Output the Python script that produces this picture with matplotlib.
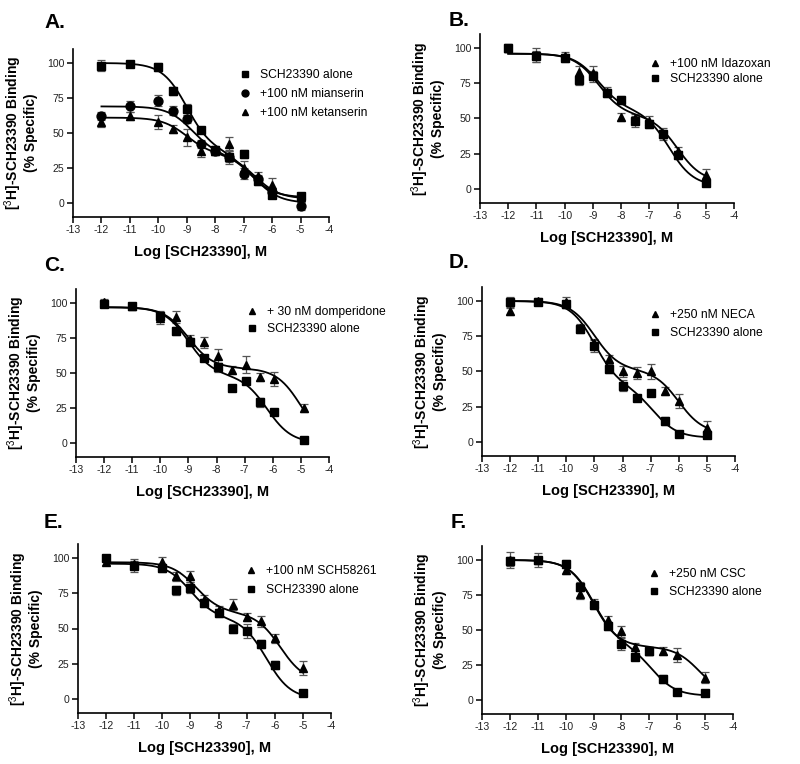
import numpy as np
import matplotlib
matplotlib.use("Agg")
import matplotlib.pyplot as plt
from matplotlib.lines import Line2D

plt.rcParams['font.family'] = ['Liberation Sans', 'DejaVu Sans']
plt.rcParams['mathtext.fontset'] = 'custom'
plt.rcParams['mathtext.rm'] = 'Liberation Sans'
plt.rcParams['mathtext.bf'] = 'Liberation Sans:bold'
plt.rcParams['axes.unicode_minus'] = False

# ---------------- data ----------------
x_std = [-12, -11, -10, -9.5, -9, -8.5, -8, -7.5, -7, -6.5, -6, -5]
x_C = [-12, -11, -10, -9.46, -8.96, -8.46, -7.96, -7.46, -6.96, -6.46, -5.96, -4.9]

# Panel A
A_alone = [98, 99, 97, 80, 67, 52, 38, 33, 35, 16, 6, 5]
A_alone_err = [4, 2, 3, 3, 4, 2, 3, 5, 3, 3, 2, 2]
A_mians = [62, 69, 73, 66, 60, 42, 37, 33, 21, 17, 8, -2]
A_mians_err = [3, 4, 4, 3, 3, 3, 3, 4, 4, 3, 3, 3]
A_ketan = [58, 62, 58, 53, 47, 37, 37, 42, 25, 19, 13, 4]
A_ketan_err = [4, 3, 5, 3, 6, 4, 3, 5, 5, 3, 5, 3]
A_alone_fit = [100, 4, 0.65, -9.0, -6.8]
A_mians_fit = [69, 0, 0.5, -8.8, -6.6]
A_ketan_fit = [61, 3, 0.45, -9.0, -6.6]

# Panel B
B_idaz = [100, 95, 94, 83, 82, 69, 51, 50, 48, 39, 27, 10]
B_idaz_err = [3, 5, 3, 4, 5, 3, 3, 3, 4, 4, 3, 4]
B_alone = [100, 94, 93, 77, 80, 68, 63, 48, 46, 39, 24, 4]
B_alone_err = [3, 4, 3, 3, 4, 3, 3, 4, 3, 3, 3, 2]
B_idaz_fit = [96, 5, 0.48, -8.8, -6.0]
B_alone_fit = [96, 2, 0.42, -8.8, -6.3]

# Panel C
C_domp = [101, 98, 89, 90, 74, 72, 62, 52, 56, 47, 46, 25]
C_domp_err = [2, 2, 4, 4, 3, 4, 5, 3, 6, 3, 5, 3]
C_alone = [99, 98, 91, 80, 72, 61, 54, 39, 44, 29, 22, 2]
C_alone_err = [2, 2, 3, 3, 3, 2, 3, 2, 2, 3, 2, 1]
C_domp_fit = [97, 0, 0.45, -9.0, -5.0]
C_alone_fit = [97, 0, 0.5, -9.0, -6.2]

# Panel D
D_neca = [93, 100, 99, 81, 70, 59, 50, 49, 50, 36, 29, 10]
D_neca_err = [3, 2, 4, 3, 3, 3, 4, 4, 5, 3, 5, 5]
D_alone = [99, 99, 98, 80, 68, 52, 40, 31, 35, 15, 6, 5]
D_alone_err = [4, 2, 3, 3, 4, 3, 4, 2, 2, 3, 2, 2]
D_neca_fit = [100, 6, 0.52, -9.0, -6.0]
D_alone_fit = [100, 3, 0.62, -9.0, -6.9]

# Panel E
E_sch58 = [97, 96, 97, 87, 87, 70, 63, 67, 58, 55, 43, 22]
E_sch58_err = [2, 3, 4, 3, 4, 4, 3, 4, 3, 4, 3, 5]
E_alone = [100, 94, 93, 77, 79, 68, 61, 50, 48, 39, 24, 4]
E_alone_err = [2, 4, 3, 3, 4, 3, 3, 3, 5, 3, 3, 1]
E_sch58_fit = [97, 12, 0.42, -8.8, -5.8]
E_alone_fit = [96, 0, 0.4, -9.0, -6.3]

# Panel F
F_csc = [100, 100, 93, 76, 69, 57, 49, 38, 35, 35, 32, 16]
F_csc_err = [6, 5, 3, 4, 3, 3, 4, 3, 3, 3, 5, 4]
F_alone = [99, 100, 97, 81, 68, 53, 40, 31, 35, 15, 6, 5]
F_alone_err = [3, 2, 3, 3, 3, 3, 4, 2, 2, 3, 2, 1]
F_csc_fit = [100, 3, 0.64, -9.0, -5.2]
F_alone_fit = [100, 3, 0.62, -9.0, -6.9]

# ---------------- helpers ----------------
def two_site(x, p):
    top, bottom, frac, l1, l2 = p
    return bottom + (top - bottom) * (frac / (1 + 10 ** (x - l1)) + (1 - frac) / (1 + 10 ** (x - l2)))

W, H = 800, 764
fig = plt.figure(figsize=(W / 100, H / 100), dpi=100)

def add_axes_px(left, right, y100, y0):
    ppu = (y0 - y100) / 100.0
    top = y100 - 10 * ppu
    bottom = y0 + 10 * ppu
    return fig.add_axes([left / W, 1 - bottom / H, (right - left) / W, (bottom - top) / H])

MARK = {'s': dict(marker='s', ms=6.4), 'o': dict(marker='o', ms=6.4), '^': dict(marker='^', ms=5.2)}
LEG_MS = {'s': 5.0, 'o': 5.0, '^': 4.0}

def draw_panel(ax, letter, xs, series, leg_px, leg_ls, label_px):
    for y, err, fit, mk, lab in series:
        ax.errorbar(xs, y, yerr=err, fmt='none', ecolor='#555555', elinewidth=0.9,
                    capsize=3, capthick=0.9, zorder=2)
        ax.plot(xs, y, linestyle='none', color='black', zorder=3, **MARK[mk])
        xx = np.linspace(min(xs), max(xs), 300)
        ax.plot(xx, two_site(xx, fit), color='black', lw=1.3, zorder=4)
    ax.set_xlim(-13, -4)
    ax.set_ylim(-10, 110)
    ax.set_xticks(np.arange(-13, -3, 1))
    ax.set_yticks([0, 25, 50, 75, 100])
    for s in ['top', 'right']:
        ax.spines[s].set_visible(False)
    for s in ['left', 'bottom']:
        ax.spines[s].set_linewidth(1.2)
    ax.tick_params(direction='out', length=4, width=1.1, labelsize=7.6, pad=2,
                   labelcolor='#222222')
    ax.set_xlabel('Log [SCH23390], M', fontsize=10.5, fontweight='bold', labelpad=7)
    ax.set_ylabel('[$^{3}$H]-SCH23390 Binding\n(% Specific)', fontsize=10,
                  fontweight='bold', labelpad=7, linespacing=0.95)
    handles = [Line2D([], [], linestyle='none', marker=mk, color='black', ms=LEG_MS[mk])
               for _, _, _, mk, _ in series]
    labels = [lab for _, _, _, _, lab in series]
    fs = 8.7
    fspx = fs * 100 / 72
    mx, my = leg_px
    ax.legend(handles, labels,
              loc='upper left', frameon=False, fontsize=fs,
              bbox_to_anchor=((mx - 0.5 * fspx) / W, 1 - (my - 8) / H),
              bbox_transform=fig.transFigure, borderpad=0, borderaxespad=0,
              handlelength=1.0, handletextpad=0.75, labelspacing=leg_ls)
    fig.text(label_px[0] / W, 1 - label_px[1] / H, letter + '.', fontsize=15,
             fontweight='bold', ha='left', va='center')

axA = add_axes_px(73, 329, 63, 203)
draw_panel(axA, 'A', x_std, [
    (A_alone, A_alone_err, A_alone_fit, 's', 'SCH23390 alone'),
    (A_mians, A_mians_err, A_mians_fit, 'o', '+100 nM mianserin'),
    (A_ketan, A_ketan_err, A_ketan_fit, '^', '+100 nM ketanserin'),
], (245, 77), 0.58, (44, 23))

axB = add_axes_px(480, 734, 48, 189)
draw_panel(axB, 'B', x_std, [
    (B_idaz, B_idaz_err, B_idaz_fit, '^', '+100 nM Idazoxan'),
    (B_alone, B_alone_err, B_alone_fit, 's', 'SCH23390 alone'),
], (655, 66), 0.25, (449, 20))

axC = add_axes_px(76, 329, 303, 443)
draw_panel(axC, 'C', x_C, [
    (C_domp, C_domp_err, C_domp_fit, '^', '+ 30 nM domperidone'),
    (C_alone, C_alone_err, C_alone_fit, 's', 'SCH23390 alone'),
], (252, 314), 0.42, (44, 265))

axD = add_axes_px(482, 735, 301, 442)
draw_panel(axD, 'D', x_std, [
    (D_neca, D_neca_err, D_neca_fit, '^', '+250 nM NECA'),
    (D_alone, D_alone_err, D_alone_fit, 's', 'SCH23390 alone'),
], (655, 317), 0.48, (449, 263))

axE = add_axes_px(78, 331, 558, 699)
draw_panel(axE, 'E', x_std, [
    (E_sch58, E_sch58_err, E_sch58_fit, '^', '+100 nM SCH58261'),
    (E_alone, E_alone_err, E_alone_fit, 's', 'SCH23390 alone'),
], (251, 573), 0.62, (44, 522))

axF = add_axes_px(482, 733, 560, 700)
draw_panel(axF, 'F', x_std, [
    (F_csc, F_csc_err, F_csc_fit, '^', '+250 nM CSC'),
    (F_alone, F_alone_err, F_alone_fit, 's', 'SCH23390 alone'),
], (654, 576), 0.48, (451, 522))

fig.savefig('out.png', dpi=100)
